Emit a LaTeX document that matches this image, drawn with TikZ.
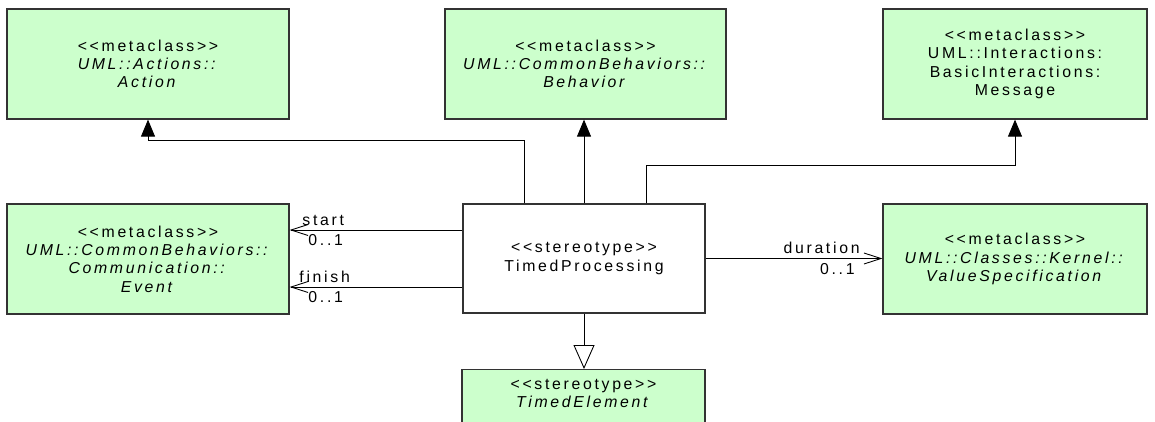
\documentclass[tikz,border=0pt]{standalone}
\usepackage{fontspec}
\setmainfont{Liberation Sans}[Ligatures=TeXOff, LetterSpace=17]
\usetikzlibrary{arrows.meta}
\definecolor{metagreen}{RGB}{204,255,204}

\begin{document}
\begin{tikzpicture}[
  line width=0.5pt,
  font=\fontsize{9}{10.4}\selectfont,
  meta/.style={draw=black!80, line width=0.7pt, fill=metagreen, minimum width=5.64cm, minimum height=2.2cm, align=center},
  stereo/.style={draw=black!80, line width=0.7pt, fill=white, minimum width=4.84cm, minimum height=2.18cm, align=center},
  lbl/.style={inner sep=2.5pt},
  ext/.style={-{Triangle[length=0.34cm, width=0.28cm]}},
  assoc/.style={-{Straight Barb[length=0.34cm, width=0.22cm]}},
  gen/.style={-{Triangle[open, length=0.48cm, width=0.42cm, fill=white]}}
]
\useasboundingbox (0,0) rectangle (23.1,8.42);
% metaclasses
\node[meta] (act) at (2.96,7.14) {<<metaclass>>\\\textit{UML::Actions::}\\\textit{Action}};
\node[meta, minimum width=5.62cm] (beh) at (11.71,7.14) {<<metaclass>>\\\textit{UML::CommonBehaviors::}\\\textit{Behavior}};
\node[meta, minimum width=5.28cm] (msg) at (20.3,7.14) {<<metaclass>>\\UML::Interactions:\\BasicInteractions:\\Message};
\node[meta] (evt) at (2.96,3.24) {<<metaclass>>\\\textit{UML::CommonBehaviors::}\\\textit{Communication::}\\\textit{Event}};
\node[meta, minimum width=5.28cm] (vs) at (20.3,3.24) {<<metaclass>>\\\textit{UML::Classes::Kernel::}\\\textit{ValueSpecification}};
% stereotypes
\node[stereo] (tp) at (11.68,3.25) {<<stereotype>>\\TimedProcessing};
\node[meta, minimum width=4.86cm, anchor=north] (te) at (11.67,1.04) {};
\node[anchor=north, align=center] (tetext) at ([yshift=-0.08cm]te.north) {<<stereotype>>\\\textit{TimedElement}};
% extensions
\draw[ext] ([xshift=-1.2cm]tp.north) |- ([yshift=-0.42cm]act.south) -- (act.south);
\draw[ext] (tp.north) -- (tp.north |- beh.south);
\draw[ext] ([xshift=1.24cm]tp.north) |- ([yshift=-0.92cm]msg.south) -- (msg.south);
% associations
\draw[assoc] ([yshift=0.57cm]tp.west) -- ([yshift=0.57cm]tp.west -| evt.east)
  node[lbl, above right, xshift=0.16cm] {start} node[lbl, below right, xshift=0.28cm] {0..1};
\draw[assoc] ([yshift=-0.57cm]tp.west) -- ([yshift=-0.57cm]tp.west -| evt.east)
  node[lbl, above right, xshift=0.1cm] {finish} node[lbl, below right, xshift=0.28cm] {0..1};
\draw[assoc] (tp.east) -- (tp.east -| vs.west)
  node[lbl, above left, xshift=-0.36cm] {duration} node[lbl, below left, xshift=-0.46cm] {0..1};
% generalization
\draw[gen] (tp.south) -- (tp.south |- te.north);
\end{tikzpicture}
\end{document}
